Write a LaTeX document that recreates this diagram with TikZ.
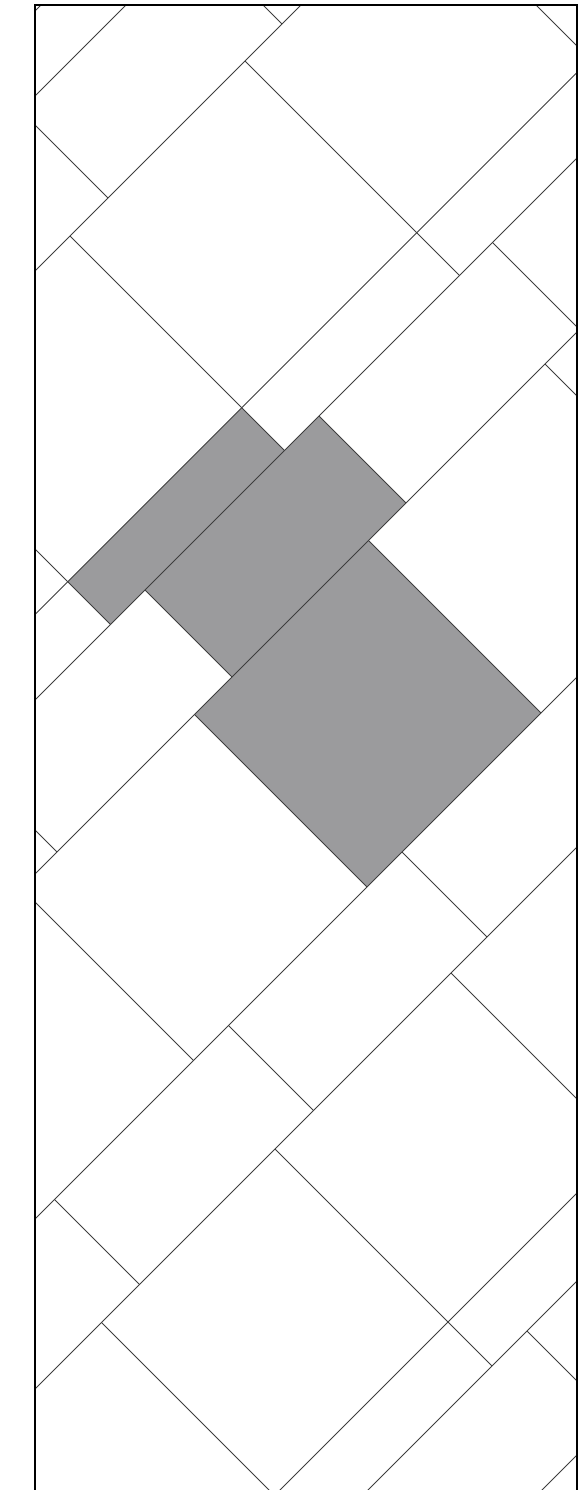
\documentclass[tikz,border=0pt]{standalone}
\usetikzlibrary{calc}
\definecolor{tilegrey}{RGB}{155,155,157}
\definecolor{lineg}{RGB}{62,62,62}
% point on the tilted grid: #1 = x+y, #2 = x-y (pixels, y downwards)
\newcommand{\tilept}[2]{({((#1)+(#2))/2},{((#1)-(#2))/2})}

\begin{document}
\begin{tikzpicture}[x=1pt, y=-1pt,
  tile/.style={draw=lineg, line width=0.8pt},
  frame/.style={draw=black, line width=2pt}]
  \useasboundingbox (0,0) rectangle (588,1490);
  \coordinate (TL) at (35,5);
  \coordinate (TR) at (577,5);
  \coordinate (BL) at (35,1490);
  \coordinate (BR) at (577,1490);
  \begin{scope}
    \clip (TL) rectangle (BR);
    % shaded tiles
    \fill[tilegrey] \tilept{649.5}{-514} -- \tilept{649.5}{-166} -- \tilept{735}{-166} -- \tilept{735}{-514} -- cycle;
    \fill[tilegrey] \tilept{735}{-445} -- \tilept{735}{-97} -- \tilept{909}{-97} -- \tilept{909}{-445} -- cycle;
    \fill[tilegrey] \tilept{909}{-520} -- \tilept{909}{-172} -- \tilept{1254}{-172} -- \tilept{1254}{-520} -- cycle;
    % long lines, lower left to upper right
    \foreach \s in {46,131,306,649.5,735,909,1254,1424,1770,1858,2032}
      \draw[tile] \tilept{\s}{-1500} -- \tilept{\s}{620};
    % short lines between them
    \foreach \d/\a/\b in {258/131/306, -90/131/306,
        531/306/649.5, 184/306/735, -166/306/735, -514/306/735,
        250/735/909, -97/735/909, -445/735/909, -795/735/909,
        181/909/1254, -172/909/1254, -520/909/1254, -867/909/1254,
        -450/1254/1424, -797/1254/1424, -1145/1254/1424,
        -522/1424/1858, -874/1424/1858, -1221/1424/1858,
        -804/1858/2032}
      \draw[tile] \tilept{\a}{\d} -- \tilept{\b}{\d};
  \end{scope}
  \draw[frame] (BL) -- (TL) -- (TR) -- (BR);
\end{tikzpicture}
\end{document}
